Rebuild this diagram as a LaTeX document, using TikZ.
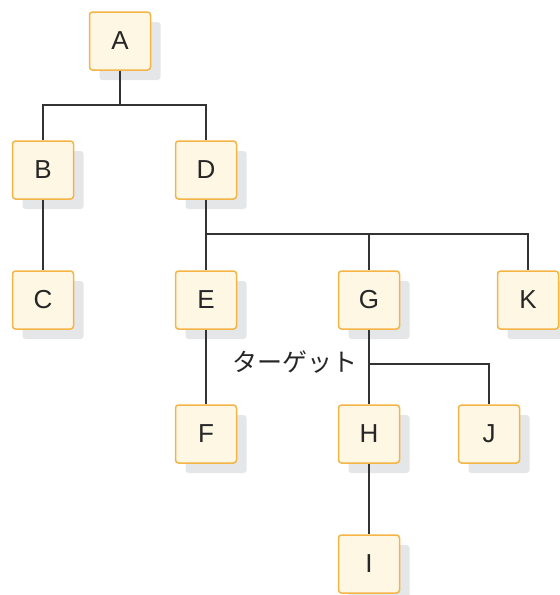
\documentclass[tikz,border=0pt]{standalone}
\usepackage{fontspec}
\setmainfont{Liberation Sans}
\newfontfamily\jpfont{Noto Sans CJK JP}
\usetikzlibrary{shadows}
\definecolor{boxFill}{HTML}{FEF7E4}
\definecolor{boxEdge}{HTML}{F4B446}
\definecolor{shadowGray}{HTML}{E5E6E8}
\definecolor{lineGray}{HTML}{333333}

\begin{document}
\begin{tikzpicture}[
  x=0.5pt, y=-0.5pt,
  box/.style={draw=boxEdge, fill=boxFill, line width=0.75pt, rounded corners=1.5pt, minimum width=30.5pt, minimum height=29pt, inner sep=0pt, font=\fontsize{13}{15}\selectfont, text=black!85,
    copy shadow={shadow xshift=5pt, shadow yshift=-5pt, fill=shadowGray, draw=none}},
  link/.style={draw=lineGray, line width=0.7pt},
  tag/.style={font=\jpfont\fontsize{12.5}{14}\selectfont, text=black!85, inner sep=0pt, anchor=east}
]
\useasboundingbox (0,0) rectangle (559,595);

\foreach \name/\x/\y in {
  A/120/41, B/43/170, D/206/170,
  C/43/300, E/206/300, G/369/300, K/528/300,
  F/206/434, H/369/434, J/489/434, I/369/564
} {
  \node[box] (\name) at (\x,\y) {\name};
}

\coordinate (forkA) at (120,105);
\coordinate (forkD) at (206,234);
\coordinate (forkG) at (369,364);

\draw[link] (A) -- (forkA);
\draw[link] (B.north) |- (forkA) -| (D.north);
\draw[link] (B) -- (C);
\draw[link] (D) -- (E);
\draw[link] (forkD) -| (G.north);
\draw[link] (forkD) -| (K.north);
\draw[link] (E) -- (F);
\draw[link] (G) -- (H);
\draw[link] (forkG) -| (J.north);
\draw[link] (H) -- (I);

\node[tag] (target) at ([xshift=-5.5pt, yshift=1pt]forkG) {ターゲット};
\end{tikzpicture}
\end{document}
